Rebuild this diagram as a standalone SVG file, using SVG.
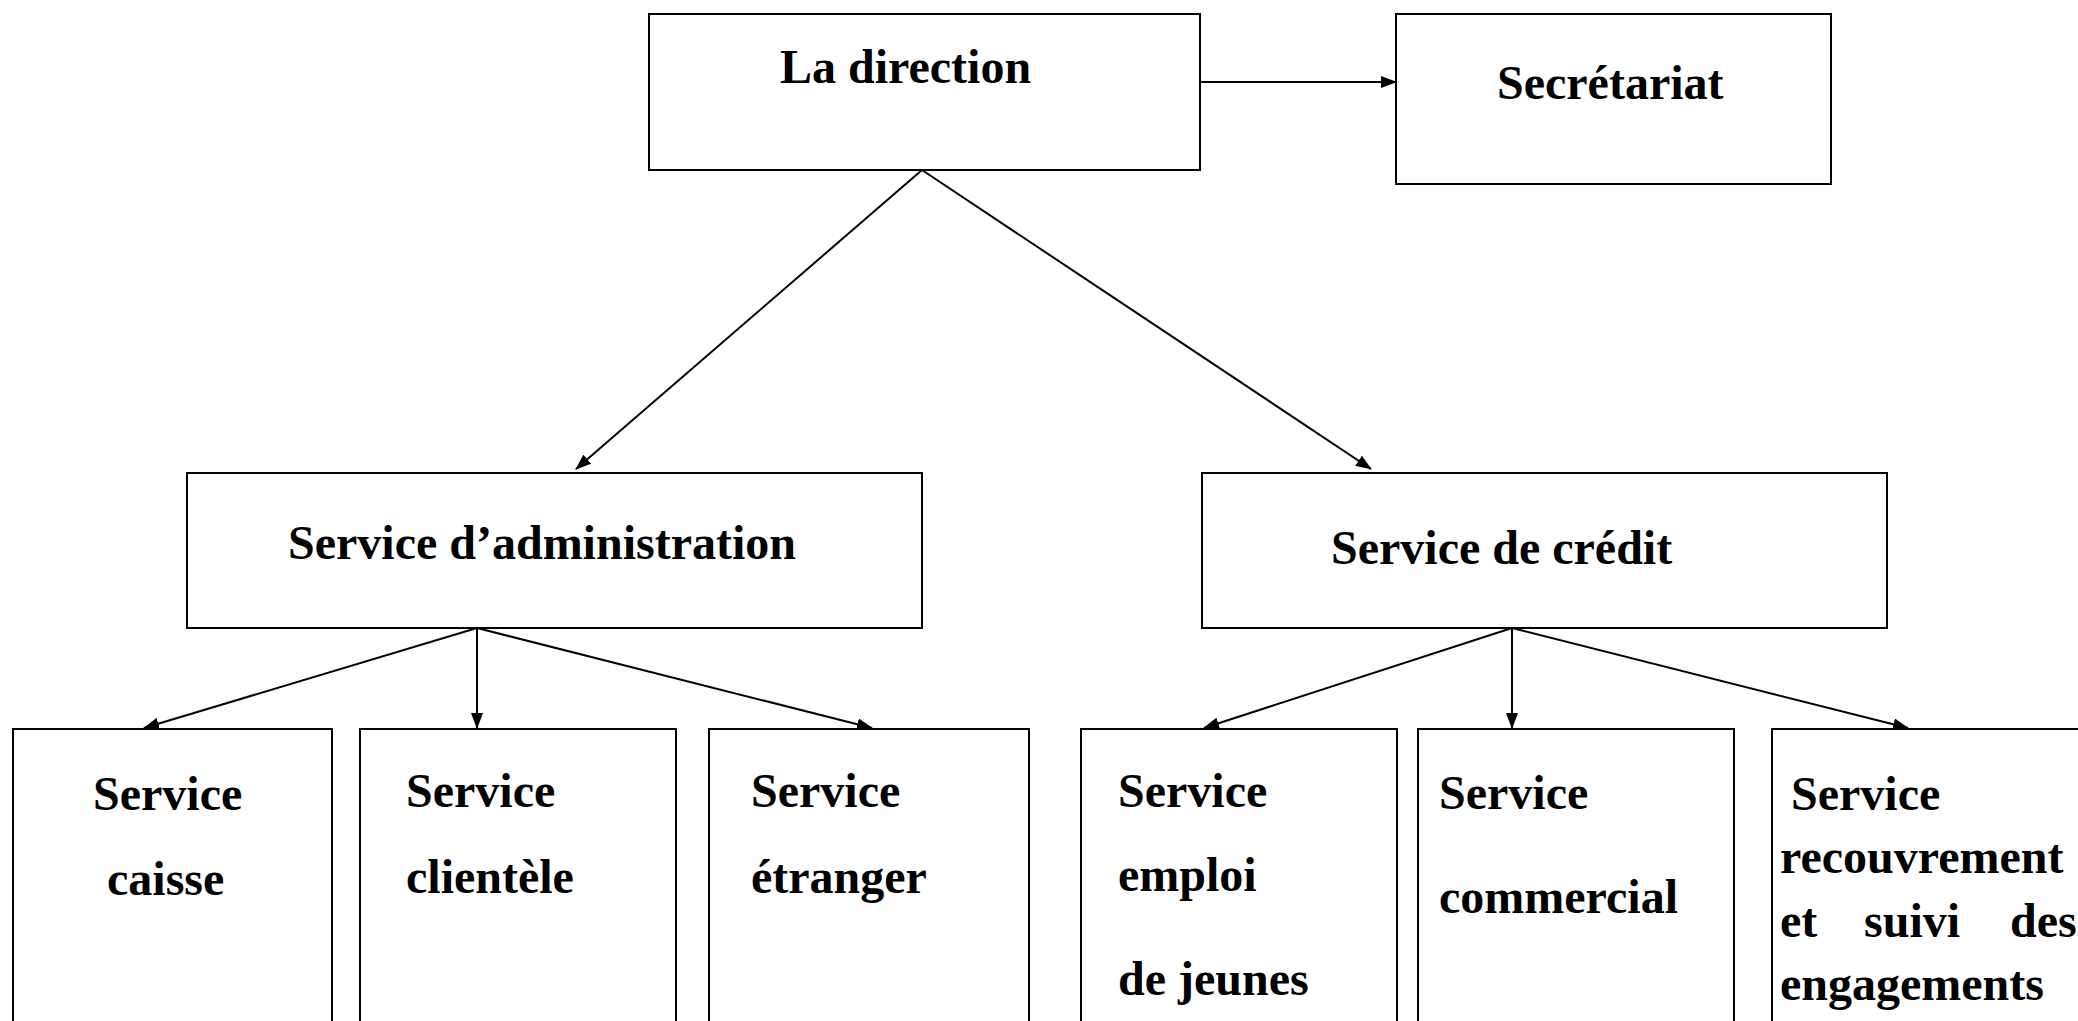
<svg xmlns="http://www.w3.org/2000/svg" width="2078" height="1021" viewBox="0 0 2078 1021">
<style>
.box{fill:#fff;stroke:#000;stroke-width:2}
.t{font-family:"Liberation Serif","Times New Roman",serif;font-weight:bold;font-size:48px;fill:#000}
.c{fill:none;stroke:#000;stroke-width:2}
</style>
<defs>
<marker id="ah" markerUnits="userSpaceOnUse" markerWidth="16" markerHeight="12" refX="15" refY="6" orient="auto">
<path d="M0,0 L16,6 L0,12 Z" fill="#000"/>
</marker>
</defs>
<rect width="2078" height="1021" fill="#fff"/>
<g id="connectors">
<line class="c" x1="1200" y1="82" x2="1396" y2="82" marker-end="url(#ah)"/>
<line class="c" x1="922" y1="170" x2="576" y2="469" marker-end="url(#ah)"/>
<line class="c" x1="922" y1="170" x2="1371" y2="469" marker-end="url(#ah)"/>
<line class="c" x1="477" y1="628" x2="144" y2="728" marker-end="url(#ah)"/>
<line class="c" x1="477" y1="628" x2="477" y2="728" marker-end="url(#ah)"/>
<line class="c" x1="477" y1="628" x2="872" y2="728" marker-end="url(#ah)"/>
<line class="c" x1="1512" y1="628" x2="1204" y2="728" marker-end="url(#ah)"/>
<line class="c" x1="1512" y1="628" x2="1512" y2="728" marker-end="url(#ah)"/>
<line class="c" x1="1512" y1="628" x2="1908" y2="728" marker-end="url(#ah)"/>
</g>
<g id="direction">
<rect class="box" x="649" y="14" width="551" height="156"/>
<text class="t" x="780" y="83">La direction</text>
</g>
<g id="secretariat">
<rect class="box" x="1396" y="14" width="435" height="170"/>
<text class="t" x="1497" y="99">Secrétariat</text>
</g>
<g id="administration">
<rect class="box" x="187" y="473" width="735" height="155"/>
<text class="t" x="288" y="559">Service d’administration</text>
</g>
<g id="credit">
<rect class="box" x="1202" y="473" width="685" height="155"/>
<text class="t" x="1331" y="564">Service de crédit</text>
</g>
<g id="caisse">
<rect class="box" x="13" y="729" width="319" height="310"/>
<text class="t" x="93" y="810">Service</text>
<text class="t" x="107" y="895">caisse</text>
</g>
<g id="clientele">
<rect class="box" x="360" y="729" width="316" height="310"/>
<text class="t" x="406" y="807">Service</text>
<text class="t" x="406" y="893">clientèle</text>
</g>
<g id="etranger">
<rect class="box" x="709" y="729" width="320" height="310"/>
<text class="t" x="751" y="807">Service</text>
<text class="t" x="751" y="893">étranger</text>
</g>
<g id="emploi">
<rect class="box" x="1081" y="729" width="316" height="310"/>
<text class="t" x="1118" y="807">Service</text>
<text class="t" x="1118" y="891">emploi</text>
<text class="t" x="1118" y="995">de jeunes</text>
</g>
<g id="commercial">
<rect class="box" x="1418" y="729" width="316" height="310"/>
<text class="t" x="1439" y="809">Service</text>
<text class="t" x="1439" y="913">commercial</text>
</g>
<g id="recouvrement">
<rect class="box" x="1772" y="729" width="330" height="310"/>
<text class="t" x="1791" y="810">Service</text>
<text class="t" x="1780" y="873">recouvrement</text>
<text class="t" x="1780" y="937">et</text>
<text class="t" x="1864" y="937">suivi</text>
<text class="t" x="2010" y="937">des</text>
<text class="t" x="1780" y="1000">engagements</text>
</g>
</svg>
